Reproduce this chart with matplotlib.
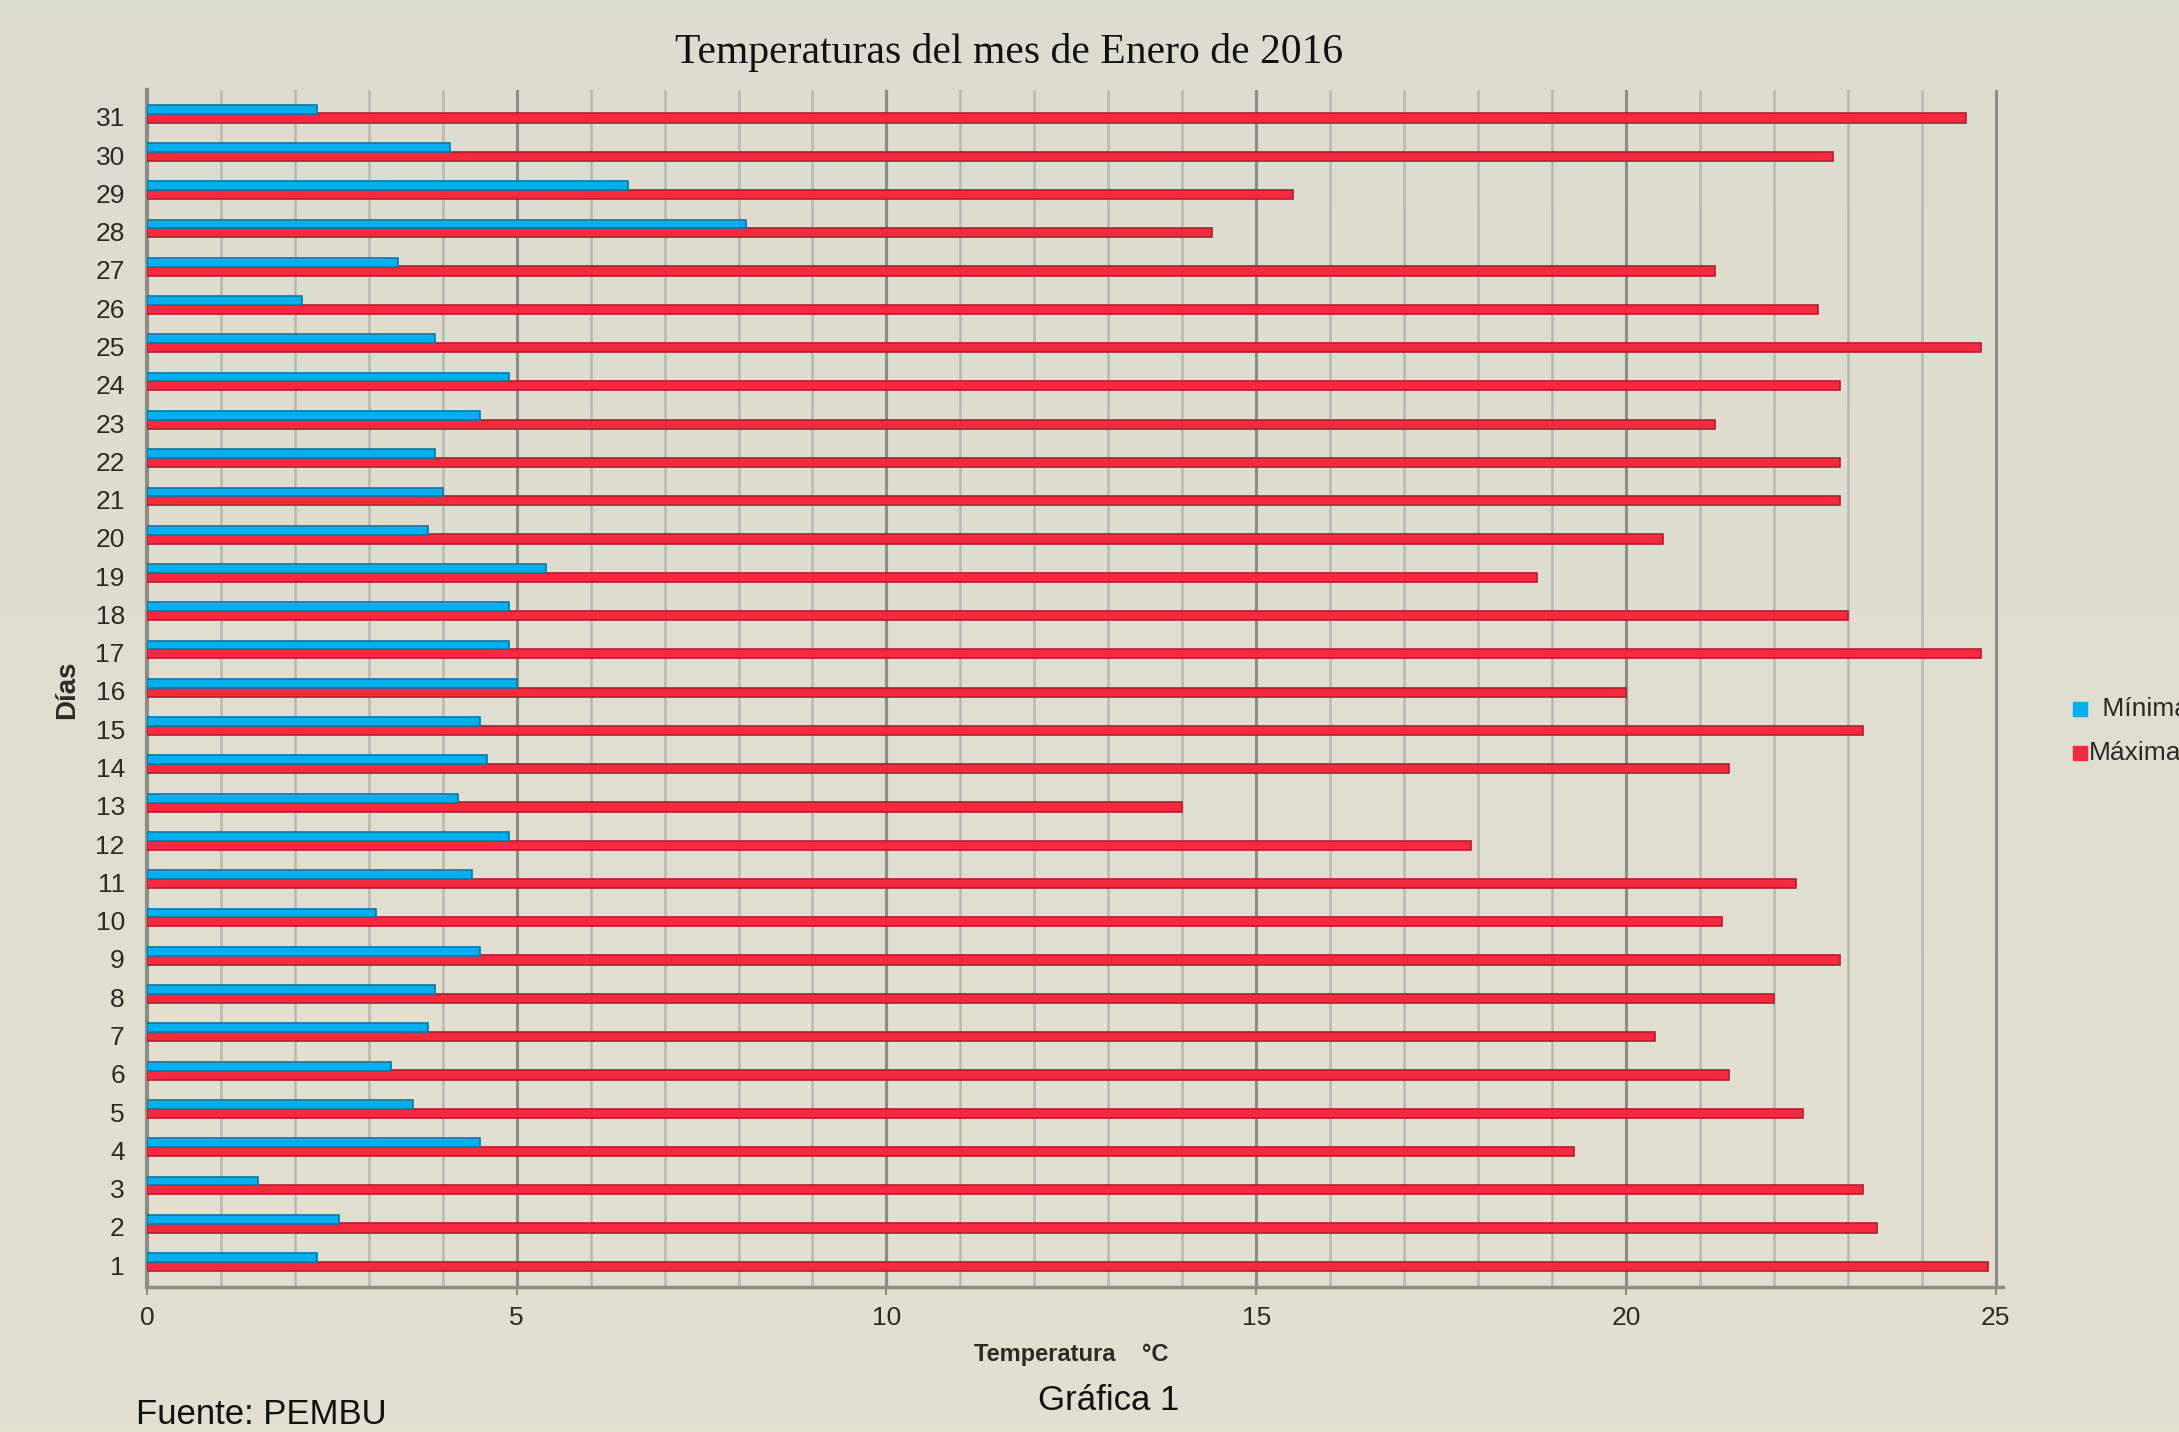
import matplotlib
matplotlib.use('Agg')
import matplotlib.pyplot as plt
import numpy as np
from matplotlib.patches import Rectangle

# Temperaturas de enero 2016
dias = list(range(1, 32))
minima = [2.3, 2.6, 1.5, 4.5, 3.6, 3.3, 3.8, 3.9, 4.5, 3.1,
          4.4, 4.9, 4.2, 4.6, 4.5, 5.0, 4.9, 4.9, 5.4, 3.8,
          4.0, 3.9, 4.5, 4.9, 3.9, 2.1, 3.4, 8.1, 6.5, 4.1, 2.3]
maxima = [24.9, 23.4, 23.2, 19.3, 22.4, 21.4, 20.4, 22.0, 22.9, 21.3,
          22.3, 17.9, 14.0, 21.4, 23.2, 20.0, 24.8, 23.0, 18.8, 20.5,
          22.9, 22.9, 21.2, 22.9, 24.8, 22.6, 21.2, 14.4, 15.5, 22.8, 24.6]
xticks = [0, 5, 10, 15, 20, 25]

plt.rcParams['font.family'] = ['Liberation Sans', 'DejaVu Sans']
TXT = '#2b2b25'
W, H = 2179, 1432

fig = plt.figure(figsize=(W / 100, H / 100), dpi=100)

# fondo degradado
bg = fig.add_axes([0, 0, 1, 1], zorder=-10)
top = np.array([220, 221, 209]) / 255
bot = np.array([227, 224, 208]) / 255
t = np.linspace(0, 1, 256)[:, None]
grad = (top[None, :] * (1 - t) + bot[None, :] * t)[:, None, :]
bg.imshow(grad, aspect='auto', extent=[0, 1, 0, 1])
bg.axis('off')

ax = fig.add_axes([147 / W, 1 - 1287 / H, (2003 - 147) / W, (1287 - 90) / H])
ax.set_facecolor('none')

d = np.array(dias)
ax.barh(d - 0.03, maxima, height=0.24, color='#f7293f', edgecolor='#b21f30',
        linewidth=1.2, zorder=3)
ax.barh(d + 0.2, minima, height=0.23, color='#00b0ee', edgecolor='#0b79a3',
        linewidth=1.2, zorder=3)

for v in range(1, 26):
    major = v % 5 == 0
    ax.axvline(v, color='#8d8d88' if major else '#b9b9b3',
               lw=2.2 if major else 1.8, zorder=1)

ax.set_xlim(0, 25.1)
ax.set_ylim(0.43, 31.7)
ax.set_xticks(xticks)
ax.set_xticklabels([str(x) for x in xticks], fontsize=19, color=TXT)
ax.set_yticks(dias)
ax.set_yticklabels([str(x) for x in dias], fontsize=19, color=TXT)
ax.tick_params(axis='y', length=0, pad=16)
ax.tick_params(axis='x', length=6, width=1.5, color='#8d8d88', pad=8)

for s in ['top', 'right']:
    ax.spines[s].set_visible(False)
ax.spines['left'].set_color('#8d8d88')
ax.spines['left'].set_linewidth(3)
ax.spines['bottom'].set_color('#8d8d88')
ax.spines['bottom'].set_linewidth(2.5)

fig.text(1009 / W, 1 - 53 / H, 'Temperaturas del mes de Enero de 2016',
         family=['Liberation Serif', 'DejaVu Serif'], fontsize=30,
         color='#111111', ha='center', va='center')
fig.text(67 / W, 1 - 690 / H, 'Días', fontsize=20, fontweight='bold',
         color=TXT, rotation=90, ha='center', va='center')
fig.text(1071 / W, 1 - 1355 / H, 'Temperatura    °C', fontsize=17,
         fontweight='bold', color=TXT, ha='center', va='center')
fig.text(1109 / W, 1 - 1400 / H, 'Gráfica 1', fontsize=25, color='#111111',
         ha='center', va='center')
fig.text(136 / W, 1 - 1414 / H, 'Fuente: PEMBU', fontsize=25, color='#111111',
         ha='left', va='center')

# leyenda a la derecha
for y, col, lab, dx in [(709, '#00b0ee', ' Mínima', 22), (753, '#f7293f', 'Máxima', 16)]:
    fig.patches.append(Rectangle((2073 / W, 1 - (y + 7) / H), 14 / W, 14 / H,
                                 transform=fig.transFigure, color=col))
    fig.text((2073 + dx) / W, 1 - y / H, lab, fontsize=19, color=TXT,
             ha='left', va='center')

fig.savefig('out.png', dpi=100)
